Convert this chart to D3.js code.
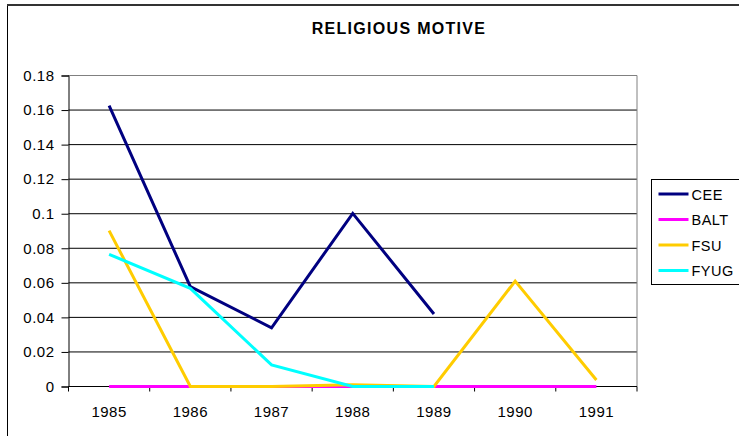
<!DOCTYPE html>
<html>
<head>
<meta charset="utf-8">
<script src="https://cdn.jsdelivr.net/npm/d3@7"></script>
<style>
  body { margin: 0; background: #fff; }
  text { font-family: "Liberation Sans", Arial, sans-serif; fill: #000; }
</style>
</head>
<body>
<div class="canvas"></div>
<script>
// data (null = no value)
const years = ["1985", "1986", "1987", "1988", "1989", "1990", "1991"];
const cee = [0.1625, 0.0578, 0.034, 0.1002, 0.042, null, null];
const balt = [0, 0, 0, 0, 0, 0, 0];
const fsu = [0.0902, 0, 0, 0.001, 0, 0.061, 0.0038];
const fyug = [0.0765, 0.0568, 0.0125, 0, 0, null, null];
const yTicks = [0, 0.02, 0.04, 0.06, 0.08, 0.1, 0.12, 0.14, 0.16, 0.18];

const series = [
  { name: "CEE", values: cee, color: "#000080" },
  { name: "BALT", values: balt, color: "#ff00ff" },
  { name: "FSU", values: fsu, color: "#ffcc00" },
  { name: "FYUG", values: fyug, color: "#00ffff" },
];

// dimensions
const w = 739;
const h = 436;
const plot = { left: 68.5, right: 637, top: 75.5, bottom: 386.5 };

const svg = d3.select(".canvas").append("svg").attr("width", w).attr("height", h);

// outer chart border
svg.append("rect")
  .attr("x", 7.5).attr("y", 4.5)
  .attr("width", 760).attr("height", 460)
  .attr("fill", "none").attr("stroke", "#000");
svg.append("line")
  .attr("x1", 7).attr("x2", w).attr("y1", 5).attr("y2", 5)
  .attr("stroke", "#333").attr("stroke-width", 2);

// title
svg.append("text")
  .attr("x", 399).attr("y", 34)
  .attr("text-anchor", "middle")
  .style("font-weight", "bold")
  .style("font-size", "16px")
  .style("letter-spacing", "1.3px")
  .text("RELIGIOUS MOTIVE");

// scales
const xBand = d3.scaleBand().domain(years).range([plot.left, plot.right]);
const x = (i) => xBand(years[i]) + xBand.bandwidth() / 2;
const y = d3.scaleLinear().domain([0, 0.18]).range([plot.bottom, plot.top]);

// gridlines
svg.append("g")
  .selectAll("line")
  .data(yTicks.slice(1))
  .enter()
  .append("line")
  .attr("x1", plot.left).attr("x2", plot.right)
  .attr("y1", (d) => y(d)).attr("y2", (d) => y(d))
  .attr("stroke", "#000");

// plot area frame (top/right grey)
svg.append("path")
  .attr("d", `M${plot.left},${plot.top}H${plot.right}V${plot.bottom}`)
  .attr("fill", "none").attr("stroke", "#808080");

// y axis
const yAxis = d3.axisLeft(y).tickValues(yTicks).tickFormat((d) => String(+d.toFixed(2))).tickSize(7).tickPadding(7);
const gy = svg.append("g").attr("transform", `translate(${plot.left},0)`).call(yAxis);
gy.select(".domain").attr("stroke", "#000");
gy.selectAll("text").style("font-size", "15px").style("letter-spacing", "0.5px")
  .attr("font-family", null);

// x axis, ticks between categories
const boundaries = d3.range(years.length + 1).map((i) => plot.left + i * xBand.bandwidth());
svg.append("line")
  .attr("x1", plot.left).attr("x2", plot.right)
  .attr("y1", plot.bottom).attr("y2", plot.bottom)
  .attr("stroke", "#000");
svg.append("g")
  .selectAll("line")
  .data(boundaries)
  .enter()
  .append("line")
  .attr("x1", (d) => d).attr("x2", (d) => d)
  .attr("y1", plot.bottom).attr("y2", plot.bottom + 5)
  .attr("stroke", "#000");
svg.append("g")
  .selectAll("text")
  .data(years)
  .enter()
  .append("text")
  .attr("x", (d, i) => x(i))
  .attr("y", 417)
  .attr("text-anchor", "middle")
  .style("font-size", "15px")
  .style("letter-spacing", "0.5px")
  .text((d) => d);

// lines
const line = d3.line()
  .defined((d) => d != null)
  .x((d, i) => x(i))
  .y((d) => y(d));

svg.append("g")
  .selectAll("path")
  .data(series)
  .enter()
  .append("path")
  .attr("d", (s) => line(s.values))
  .attr("fill", "none")
  .attr("stroke", (s) => s.color)
  .attr("stroke-width", 3)
  .attr("stroke-linejoin", "miter");

// legend
const legend = svg.append("g").attr("transform", "translate(651.5,179.5)");
legend.append("rect")
  .attr("width", 100).attr("height", 105)
  .attr("fill", "#fff").attr("stroke", "#000");
const items = legend.selectAll("g.item")
  .data(series)
  .enter()
  .append("g")
  .attr("class", "item")
  .attr("transform", (d, i) => `translate(0,${14.5 + i * 25.5})`);
items.append("line")
  .attr("x1", 7).attr("x2", 37)
  .attr("stroke", (d) => d.color).attr("stroke-width", 3);
items.append("text")
  .attr("x", 40).attr("y", 5.5)
  .style("font-size", "14.5px")
  .style("letter-spacing", "0.5px")
  .text((d) => d.name);
</script>
</body>
</html>
